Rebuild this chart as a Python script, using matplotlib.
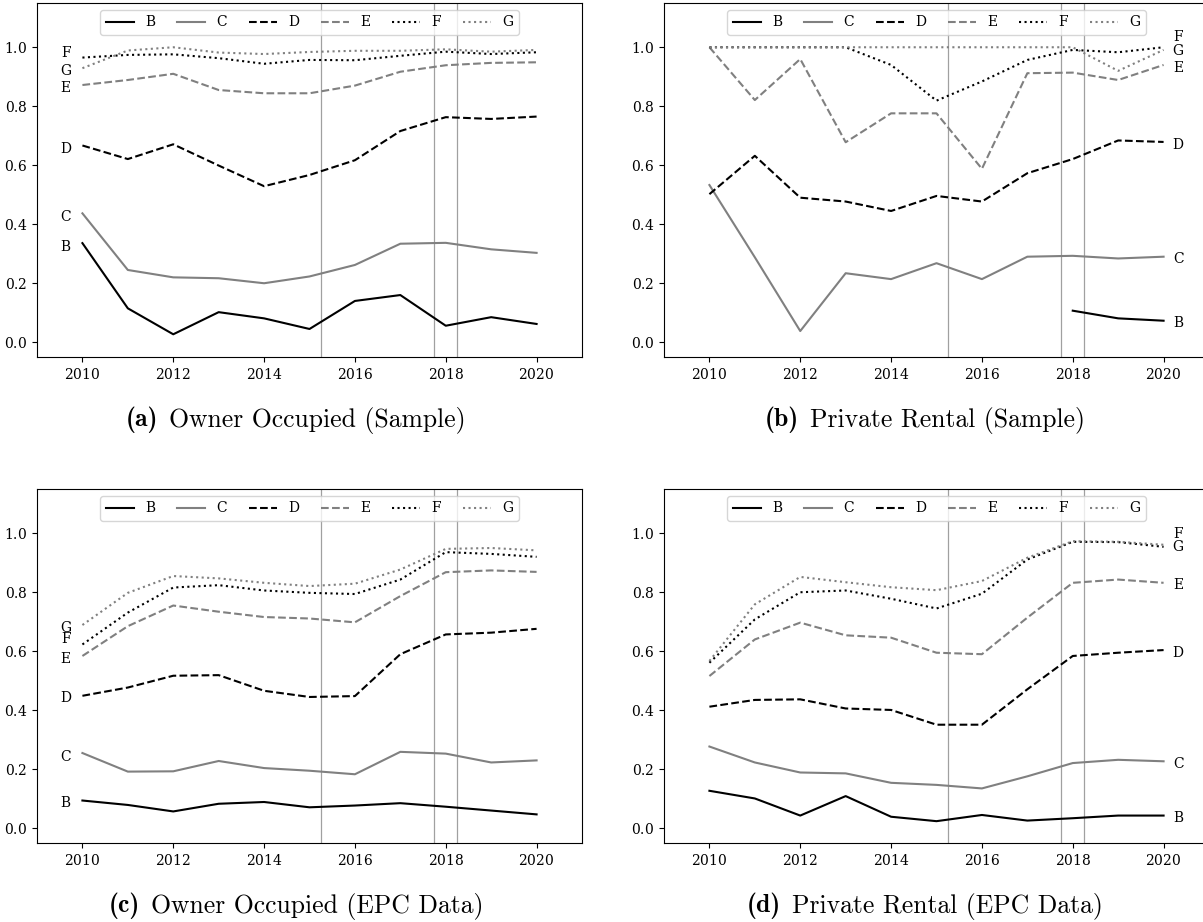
import numpy as np
import matplotlib
matplotlib.use("Agg")
import matplotlib.pyplot as plt

plt.rcParams['font.family'] = ['DejaVu Serif']
plt.rcParams['font.size'] = 10
plt.rcParams['axes.formatter.use_mathtext'] = True

years = list(range(2010, 2021))
bands = ["B", "C", "D", "E", "F", "G"]

# (a) Owner Occupied (Sample)
a_B = [0.336, 0.115, 0.027, 0.102, 0.081, 0.045, 0.140, 0.160, 0.056, 0.085, 0.062]
a_C = [0.437, 0.245, 0.220, 0.217, 0.200, 0.223, 0.262, 0.334, 0.337, 0.315, 0.303]
a_D = [0.667, 0.621, 0.671, 0.599, 0.529, 0.567, 0.617, 0.716, 0.763, 0.757, 0.765]
a_E = [0.872, 0.889, 0.910, 0.855, 0.844, 0.844, 0.870, 0.917, 0.939, 0.947, 0.949]
a_F = [0.965, 0.974, 0.976, 0.963, 0.944, 0.957, 0.956, 0.971, 0.985, 0.977, 0.983]
a_G = [0.929, 0.989, 1.000, 0.982, 0.977, 0.984, 0.988, 0.988, 0.993, 0.985, 0.991]

# (b) Private Rental (Sample)
b_B = [np.nan] * 8 + [0.107, 0.081, 0.073]
b_C = [0.533, 0.288, 0.038, 0.234, 0.214, 0.268, 0.214, 0.290, 0.293, 0.284, 0.290]
b_D = [0.502, 0.632, 0.490, 0.477, 0.445, 0.496, 0.477, 0.573, 0.621, 0.684, 0.679]
b_E = [1.000, 0.821, 0.960, 0.678, 0.776, 0.776, 0.588, 0.912, 0.914, 0.889, 0.940]
b_F = [1.000, 1.000, 1.000, 1.000, 0.940, 0.819, 0.884, 0.957, 0.991, 0.983, 1.000]
b_G = [1.000, 1.000, 1.000, 1.000, 1.000, 1.000, 1.000, 1.000, 1.000, 0.920, 0.991]

# (c) Owner Occupied (EPC Data)
c_B = [0.094, 0.079, 0.057, 0.083, 0.089, 0.071, 0.077, 0.085, 0.073, 0.060, 0.047]
c_C = [0.255, 0.192, 0.193, 0.228, 0.204, 0.195, 0.183, 0.259, 0.253, 0.223, 0.230]
c_D = [0.449, 0.477, 0.517, 0.519, 0.466, 0.445, 0.448, 0.590, 0.657, 0.663, 0.676]
c_E = [0.584, 0.685, 0.755, 0.734, 0.716, 0.711, 0.698, 0.787, 0.868, 0.874, 0.869]
c_F = [0.623, 0.731, 0.816, 0.824, 0.806, 0.798, 0.794, 0.843, 0.936, 0.930, 0.920]
c_G = [0.689, 0.798, 0.855, 0.847, 0.832, 0.821, 0.829, 0.877, 0.947, 0.950, 0.942]

# (d) Private Rental (EPC Data)
d_B = [0.127, 0.101, 0.043, 0.109, 0.039, 0.024, 0.045, 0.026, 0.034, 0.043, 0.043]
d_C = [0.277, 0.223, 0.189, 0.186, 0.154, 0.147, 0.135, 0.176, 0.221, 0.232, 0.227]
d_D = [0.412, 0.435, 0.437, 0.406, 0.401, 0.351, 0.351, 0.471, 0.584, 0.595, 0.604]
d_E = [0.516, 0.640, 0.697, 0.654, 0.646, 0.595, 0.590, 0.714, 0.832, 0.843, 0.832]
d_F = [0.561, 0.708, 0.800, 0.806, 0.778, 0.745, 0.795, 0.911, 0.971, 0.970, 0.954]
d_G = [0.567, 0.759, 0.852, 0.834, 0.817, 0.807, 0.838, 0.917, 0.973, 0.971, 0.961]

# label heights (B..G) for end-of-line band labels
a_lab = [0.322, 0.425, 0.655, 0.861, 0.982, 0.920]
b_lab = [0.064, 0.281, 0.669, 0.929, 1.034, 0.987]
c_lab = [0.085, 0.242, 0.440, 0.575, 0.640, 0.680]
d_lab = [0.034, 0.218, 0.593, 0.823, 0.998, 0.952]

vlines = [2015.25, 2017.75, 2018.25]

captions = ["(a)", "(b)", "(c)", "(d)"]
titles = ["Owner Occupied (Sample)", "Private Rental (Sample)",
          "Owner Occupied (EPC Data)", "Private Rental (EPC Data)"]

panels = [
    ([a_B, a_C, a_D, a_E, a_F, a_G], a_lab, "left"),
    ([b_B, b_C, b_D, b_E, b_F, b_G], b_lab, "right"),
    ([c_B, c_C, c_D, c_E, c_F, c_G], c_lab, "left"),
    ([d_B, d_C, d_D, d_E, d_F, d_G], d_lab, "right"),
]

styles = [("black", "-"), ("#808080", "-"), ("black", "--"),
          ("#808080", "--"), ("black", ":"), ("#808080", ":")]

W, H = 1203, 922
fig = plt.figure(figsize=(W / 100, H / 100), dpi=100)
renderer = fig.canvas.get_renderer()

ax_rects = [
    (37, 3, 545, 354),
    (664, 3, 545, 354),
    (37, 489, 545, 354),
    (664, 489, 545, 354),
]
cap_pos = [(296, 420), (925, 420), (296, 906), (925, 906)]
cap_size = 18.5
gap_px = 11

for i, (series, labs, side) in enumerate(panels):
    x0, y0, w, h = ax_rects[i]
    ax = fig.add_axes([x0 / W, 1 - (y0 + h) / H, w / W, h / H])
    for xv in vlines:
        ax.axvline(xv, color="#a0a0a0", lw=0.9, zorder=1)
    for s, name, (col, ls), ly in zip(series, bands, styles, labs):
        ax.plot(years, s, color=col, ls=ls, lw=1.5, label=name, zorder=2)
        if side == "left":
            ax.text(2009.63, ly, name, ha="center", va="center")
        else:
            ax.text(2020.32, ly, name, ha="center", va="center")
    ax.set_xlim(2009, 2021)
    ax.set_ylim(-0.05, 1.15)
    ax.set_xticks([2010, 2012, 2014, 2016, 2018, 2020])
    ax.set_yticks([0.0, 0.2, 0.4, 0.6, 0.8, 1.0])
    ax.legend(loc="upper center", ncol=6, columnspacing=1.6)

    # caption: bold "(x)" followed by roman title, centred as a whole
    cx, cy = cap_pos[i]
    t1 = fig.text(0, 1 - cy / H, captions[i], fontfamily="cmb10",
                  fontsize=cap_size, ha="left", va="center")
    t2 = fig.text(0, 1 - cy / H, titles[i], fontfamily="cmr10",
                  fontsize=cap_size, ha="left", va="center")
    w1 = t1.get_window_extent(renderer).width
    w2 = t2.get_window_extent(renderer).width
    total = w1 + gap_px + w2
    start = cx - total / 2
    t1.set_x(start / W)
    t2.set_x((start + w1 + gap_px) / W)

fig.savefig("out.png", dpi=100)
